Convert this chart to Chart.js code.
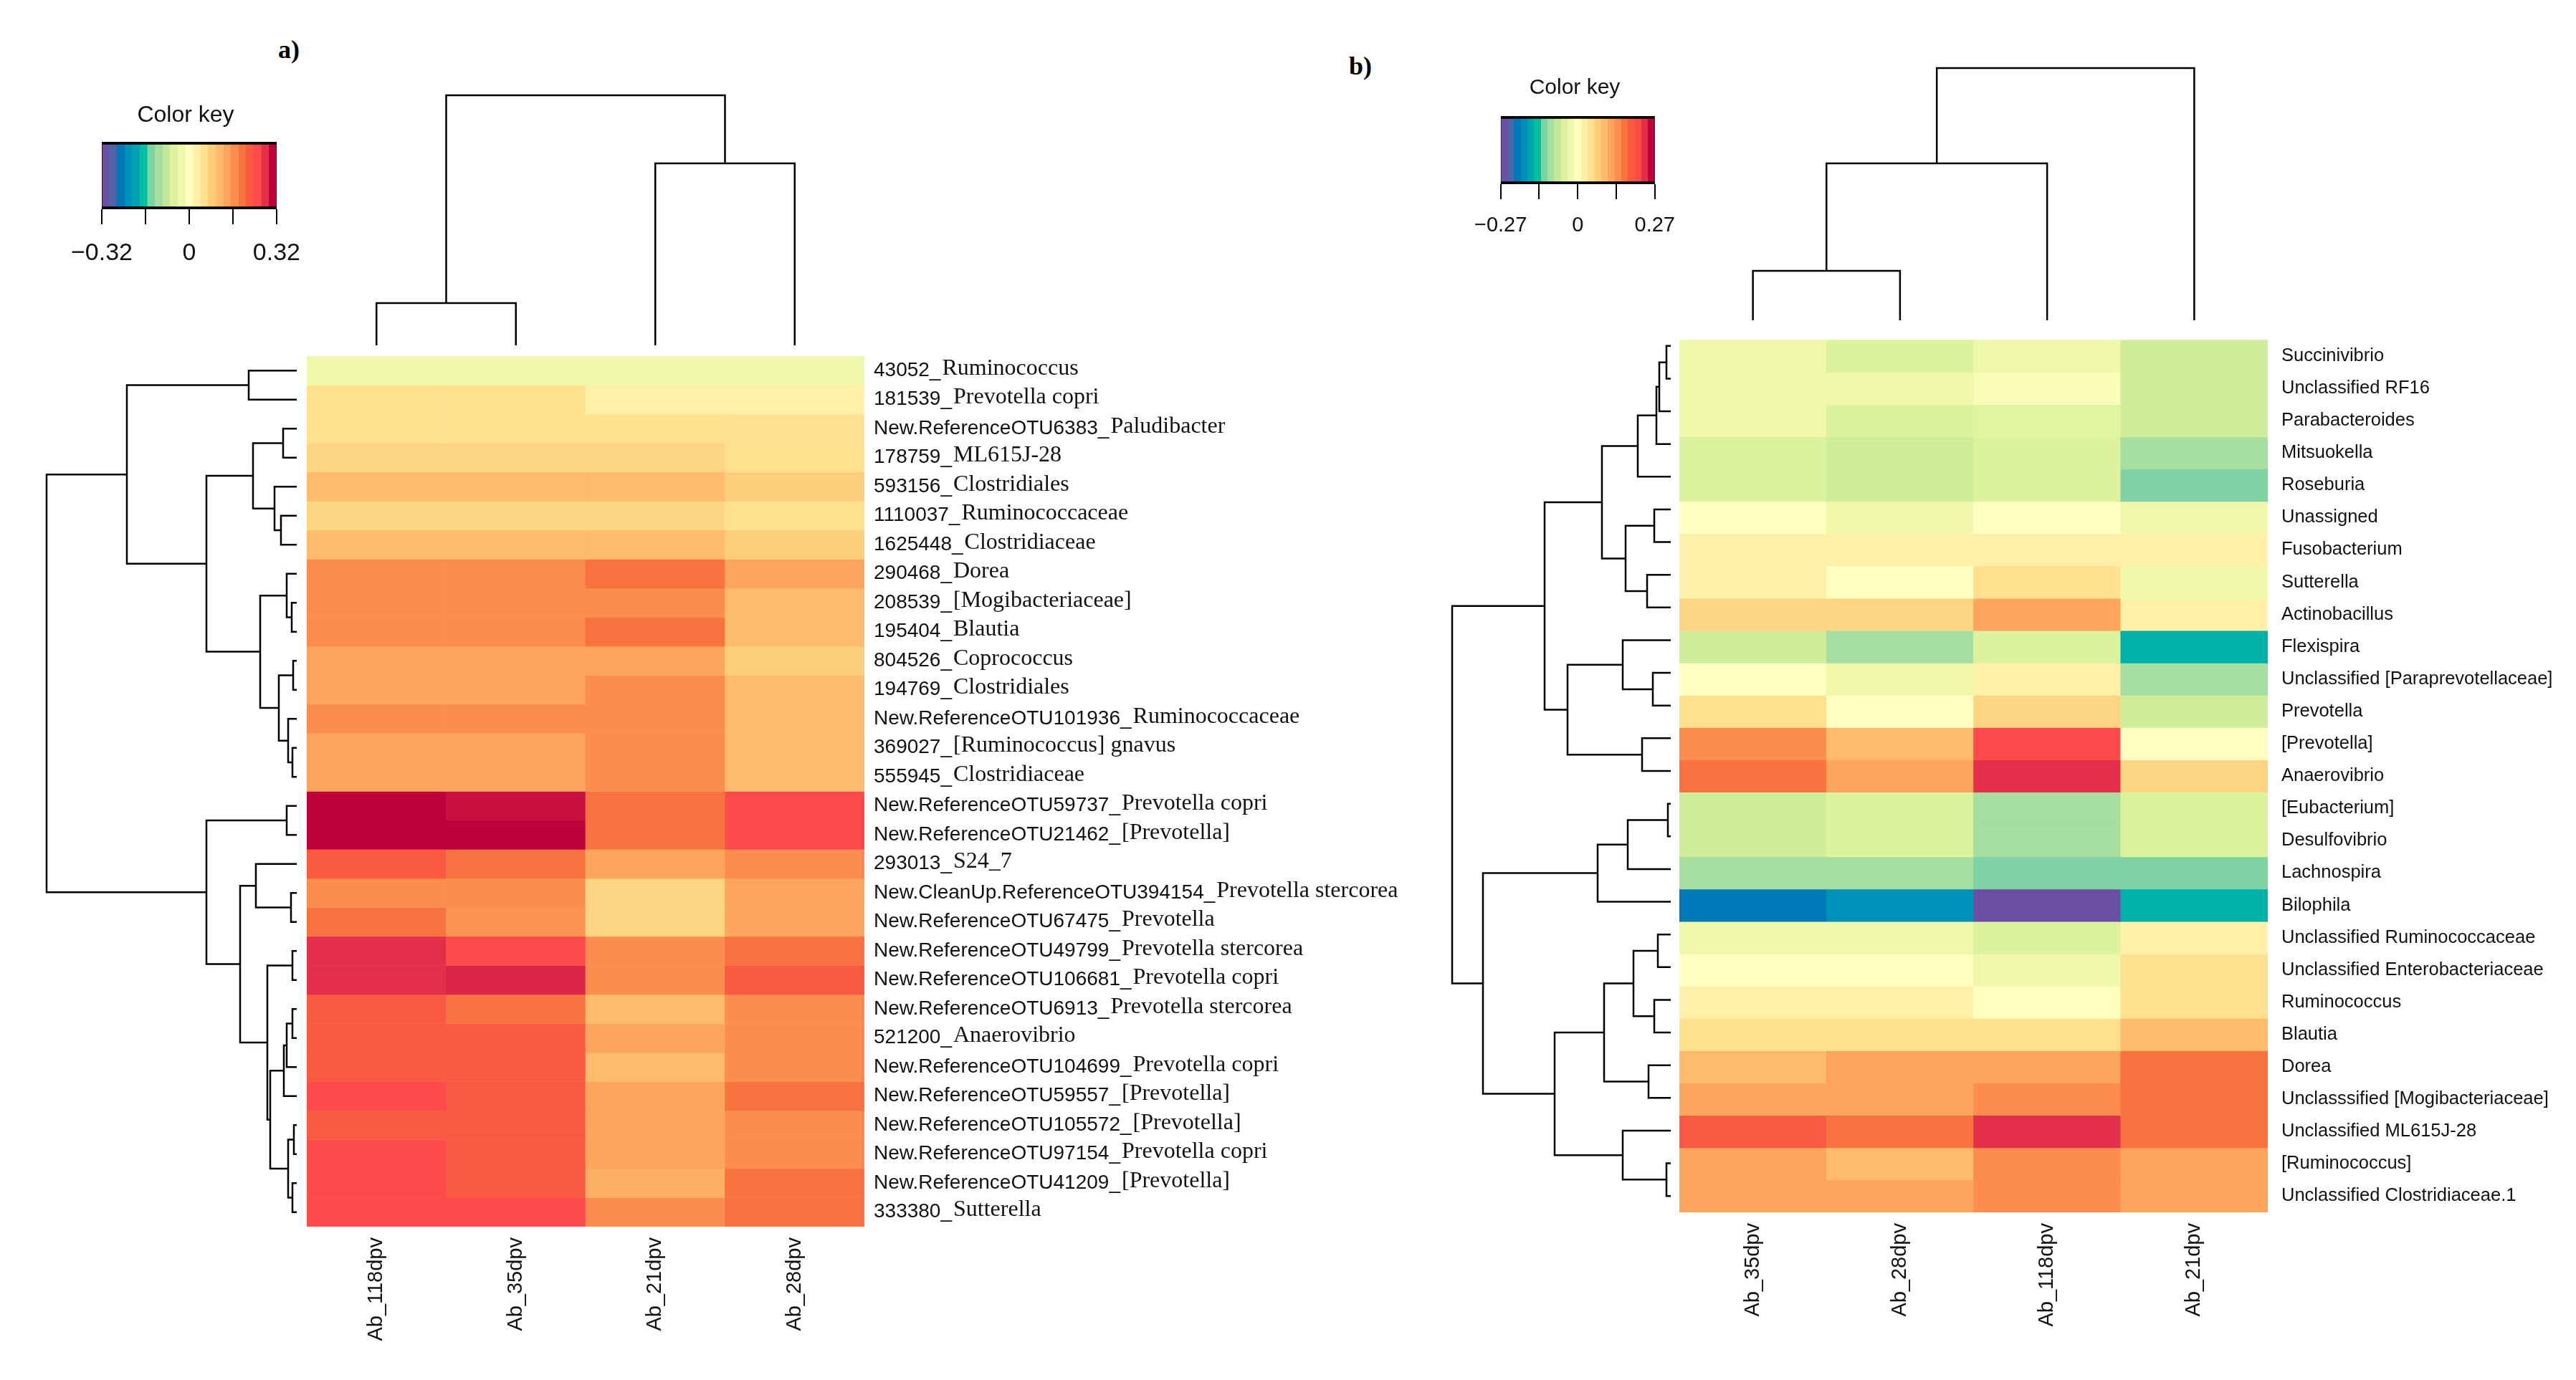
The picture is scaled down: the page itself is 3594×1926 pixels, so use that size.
<!DOCTYPE html>
<html>
<head>
<meta charset="utf-8">
<title>Heatmaps a) and b)</title>
<script src="https://cdn.jsdelivr.net/npm/chart.js@4.4.1/dist/chart.umd.min.js"></script>
<style>
  html, body { margin: 0; padding: 0; background: #fff; }
  #page { position: relative; width: 3594px; height: 1926px; overflow: hidden; background: #fff; }
  #page canvas { position: absolute; }
  .tag { position: absolute; font: bold 36px 'Liberation Serif', serif; color: #000; transform: translate(-50%, -50%); }
</style>
</head>
<body>
<div id="page">
  <div class="tag" style="left:403px; top:69px">a)</div>
  <div class="tag" style="left:1898px; top:92px">b)</div>
</div>
<script>
// ---- panel a data ----
const colsA = ['Ab_118dpv', 'Ab_35dpv', 'Ab_21dpv', 'Ab_28dpv'];
const rowsA = [
  '43052_Ruminococcus', '181539_Prevotella copri', 'New.ReferenceOTU6383_Paludibacter',
  '178759_ML615J-28', '593156_Clostridiales', '1110037_Ruminococcaceae', '1625448_Clostridiaceae',
  '290468_Dorea', '208539_[Mogibacteriaceae]', '195404_Blautia', '804526_Coprococcus',
  '194769_Clostridiales', 'New.ReferenceOTU101936_Ruminococcaceae', '369027_[Ruminococcus] gnavus',
  '555945_Clostridiaceae', 'New.ReferenceOTU59737_Prevotella copri', 'New.ReferenceOTU21462_[Prevotella]',
  '293013_S24_7', 'New.CleanUp.ReferenceOTU394154_Prevotella stercorea', 'New.ReferenceOTU67475_Prevotella',
  'New.ReferenceOTU49799_Prevotella stercorea', 'New.ReferenceOTU106681_Prevotella copri',
  'New.ReferenceOTU6913_Prevotella stercorea', '521200_Anaerovibrio', 'New.ReferenceOTU104699_Prevotella copri',
  'New.ReferenceOTU59557_[Prevotella]', 'New.ReferenceOTU105572_[Prevotella]',
  'New.ReferenceOTU97154_Prevotella copri', 'New.ReferenceOTU41209_[Prevotella]', '333380_Sutterella'
];
const valuesA = [
  [-0.028, -0.028, -0.028, -0.028],
  [0.056, 0.056, 0.028, 0.028],
  [0.056, 0.056, 0.056, 0.052],
  [0.075, 0.075, 0.075, 0.056],
  [0.111, 0.111, 0.111, 0.084],
  [0.072, 0.072, 0.072, 0.056],
  [0.111, 0.111, 0.111, 0.084],
  [0.167, 0.167, 0.195, 0.139],
  [0.167, 0.167, 0.167, 0.111],
  [0.167, 0.167, 0.195, 0.111],
  [0.139, 0.139, 0.139, 0.084],
  [0.139, 0.139, 0.167, 0.111],
  [0.167, 0.167, 0.167, 0.111],
  [0.139, 0.139, 0.167, 0.111],
  [0.139, 0.139, 0.167, 0.111],
  [0.320, 0.298, 0.195, 0.250],
  [0.320, 0.320, 0.195, 0.250],
  [0.223, 0.195, 0.139, 0.167],
  [0.167, 0.167, 0.075, 0.139],
  [0.195, 0.160, 0.075, 0.139],
  [0.278, 0.250, 0.167, 0.195],
  [0.278, 0.285, 0.167, 0.223],
  [0.223, 0.195, 0.111, 0.167],
  [0.223, 0.223, 0.139, 0.167],
  [0.223, 0.223, 0.111, 0.167],
  [0.250, 0.223, 0.139, 0.195],
  [0.223, 0.223, 0.139, 0.167],
  [0.250, 0.223, 0.139, 0.167],
  [0.250, 0.223, 0.125, 0.195],
  [0.250, 0.250, 0.167, 0.195]
];
const limA = 0.32;
const keyTicksA = [-0.32, -0.16, 0, 0.16, 0.32];
const keyLabelsA = ['\u22120.32', '', '0', '', '0.32'];
// hclust style merges: negative = leaf, positive = earlier merge
const colMergeA = [[-1, -2], [-3, -4], [1, 2]];
const colHeightA = [59, 254, 349];
const rowMergeA = [
  [-14, -15], [-11, -12], [-13, 1], [2, 3], [-9, -10], [-8, 5], [6, 4], [-6, -7], [-5, 8], [-3, -4],
  [10, 9], [11, 7], [-1, -2], [13, 12], [-16, -17], [-19, -20], [-18, 16], [-21, -22], [-23, -24], [19, -25],
  [20, -26], [-27, -28], [-29, -30], [22, 23], [21, 24], [18, 25], [17, 26], [15, 27], [14, 28]
];
const rowHeightA = [6, 5, 12, 25, 7, 14, 51, 22, 31, 19, 61, 126, 67, 237, 14, 8, 57, 6, 6, 14,
  18, 4, 6, 12, 37, 41, 79, 126, 349];

// ---- panel b data ----
const colsB = ['Ab_35dpv', 'Ab_28dpv', 'Ab_118dpv', 'Ab_21dpv'];
const rowsB = [
  'Succinivibrio', 'Unclassified RF16', 'Parabacteroides', 'Mitsuokella', 'Roseburia', 'Unassigned',
  'Fusobacterium', 'Sutterella', 'Actinobacillus', 'Flexispira', 'Unclassified [Paraprevotellaceae]',
  'Prevotella', '[Prevotella]', 'Anaerovibrio', '[Eubacterium]', 'Desulfovibrio', 'Lachnospira', 'Bilophila',
  'Unclassified Ruminococcaceae', 'Unclassified Enterobacteriaceae', 'Ruminococcus', 'Blautia', 'Dorea',
  'Unclasssified [Mogibacteriaceae]', 'Unclassified ML615J-28', '[Ruminococcus]', 'Unclassified Clostridiaceae.1'
];
const valuesB = [
  [-0.023, -0.047, -0.023, -0.059],
  [-0.023, -0.023, -0.009, -0.059],
  [-0.023, -0.047, -0.040, -0.059],
  [-0.047, -0.059, -0.047, -0.094],
  [-0.047, -0.059, -0.047, -0.117],
  [0.000, -0.023, 0.000, -0.023],
  [0.023, 0.023, 0.023, 0.023],
  [0.023, 0.000, 0.047, -0.023],
  [0.063, 0.063, 0.117, 0.023],
  [-0.059, -0.094, -0.047, -0.153],
  [0.000, -0.023, 0.023, -0.094],
  [0.047, 0.000, 0.063, -0.059],
  [0.141, 0.094, 0.211, 0.000],
  [0.164, 0.117, 0.235, 0.063],
  [-0.059, -0.047, -0.094, -0.047],
  [-0.059, -0.047, -0.094, -0.047],
  [-0.094, -0.094, -0.117, -0.117],
  [-0.211, -0.188, -0.258, -0.153],
  [-0.023, -0.023, -0.047, 0.023],
  [0.000, 0.000, -0.023, 0.047],
  [0.023, 0.023, 0.000, 0.047],
  [0.047, 0.047, 0.047, 0.094],
  [0.094, 0.117, 0.117, 0.164],
  [0.117, 0.117, 0.141, 0.164],
  [0.188, 0.164, 0.235, 0.164],
  [0.117, 0.094, 0.141, 0.117],
  [0.117, 0.117, 0.141, 0.117]
];
const limB = 0.27;
const keyTicksB = [-0.27, -0.135, 0, 0.135, 0.27];
const keyLabelsB = ['\u22120.27', '', '0', '', '0.27'];
const colMergeB = [[-1, -2], [1, -3], [2, -4]];
const colHeightB = [69, 219, 352];
const rowMergeB = [
  [-1, -2], [1, -3], [2, -4], [3, -5], [-6, -7], [-8, -9], [5, 6], [4, 7], [-11, -12], [-10, 9],
  [-13, -14], [10, 11], [8, 12], [-15, -16], [14, -17], [15, -18], [-19, -20], [-21, -22], [17, 18], [-23, -24],
  [19, 20], [-26, -27], [-25, 22], [21, 23], [16, 24], [13, 25]
];
const rowHeightB = [6, 16, 20, 46, 23, 33, 63, 96, 25, 67, 40, 144, 176, 4, 60, 102, 18, 23, 52, 31,
  93, 6, 67, 162, 262, 305];

// ---- helpers ----
Chart.defaults.font.family = "'Liberation Sans', Arial, sans-serif";
Chart.defaults.color = '#111';

// colour bands of the key, low to high
const bands = ['#6A4FA2', '#4F63AB', '#0079B8', '#0090B8', '#00A4B0', '#00BFA3', '#7ED3A5', '#A5DE9F',
  '#C3E89A', '#DDF29C', '#EFF8AA', '#FFFFC0', '#FEF0A6', '#FEE08F', '#FDCF7C', '#FDBB6B',
  '#FCA55C', '#FC8D4F', '#F8733F', '#FA5A42', '#FD4A4A', '#E32F4A', '#BE003C'];

function hexRgb(h) {
  return [1, 3, 5].map(k => parseInt(h.slice(k, k + 2), 16));
}

function colorFor(v, lim) {
  const n = bands.length;
  let t = (v + lim) / (2 * lim) * n - 0.5;
  t = Math.max(0, Math.min(n - 1, t));
  const i = Math.min(Math.floor(t), n - 2);
  const f = t - i;
  const a = hexRgb(bands[i]), b = hexRgb(bands[i + 1]);
  return 'rgb(' + a.map((x, k) => Math.round(x + (b[k] - x) * f)).join(',') + ')';
}

function keyFill(chart) {
  const area = chart.chartArea;
  if (!area) return '#fff';
  const g = chart.ctx.createLinearGradient(area.left, 0, area.right, 0);
  const n = bands.length;
  bands.forEach((c, k) => {
    g.addColorStop(k / n, c);
    g.addColorStop((k + 1) / n - 0.001, c);
  });
  return g;
}

function makeCanvas(left, top, w, h) {
  const c = document.createElement('canvas');
  c.width = w; c.height = h;
  c.style.left = left + 'px'; c.style.top = top + 'px';
  c.style.width = w + 'px'; c.style.height = h + 'px';
  document.getElementById('page').appendChild(c);
  return c;
}

const quiet = { legend: { display: false }, tooltip: { enabled: false } };

// U-shaped links of a dendrogram, leaf k sits at k - 0.5
function dendroLinks(merges, heights) {
  const pos = [];
  const node = k => k < 0 ? [-k - 0.5, 0] : [pos[k - 1], heights[k - 1]];
  return merges.map((m, i) => {
    const [p1, h1] = node(m[0]);
    const [p2, h2] = node(m[1]);
    pos[i] = (p1 + p2) / 2;
    return [[p1, h1], [p1, heights[i]], [p2, heights[i]], [p2, h2]];
  });
}

function drawDendro(canvas, merges, heights, nLeaves, across, hMax) {
  const links = dendroLinks(merges, heights);
  new Chart(canvas, {
    type: 'scatter',
    data: {
      datasets: links.map(l => ({
        data: l.map(([p, h]) => across ? { x: p, y: h } : { x: h, y: p }),
        showLine: true, borderColor: '#000', borderWidth: 2.5, pointRadius: 0, clip: false
      }))
    },
    options: {
      responsive: false, animation: false, events: [],
      layout: { padding: 0 },
      plugins: quiet,
      scales: across ? {
        x: { type: 'linear', display: false, min: 0, max: nLeaves },
        y: { type: 'linear', display: false, min: 0, max: hMax }
      } : {
        x: { type: 'linear', display: false, min: 0, max: hMax, reverse: true },
        y: { type: 'linear', display: false, min: 0, max: nLeaves, reverse: true }
      }
    }
  });
}

function drawKey(canvas, lim, ticks, labels, fontSize, side, titleSize, titlePad) {
  new Chart(canvas, {
    type: 'bar',
    data: {
      labels: [''],
      datasets: [{
        data: [[-lim, lim]],
        backgroundColor: c => keyFill(c.chart),
        borderColor: '#000',
        borderWidth: { top: 4, bottom: 4, left: 1, right: 1 },
        borderSkipped: false,
        barPercentage: 1, categoryPercentage: 1
      }]
    },
    options: {
      indexAxis: 'y', responsive: false, animation: false, events: [],
      layout: { padding: { left: side, right: side, top: 0, bottom: 0 } },
      plugins: {
        legend: { display: false }, tooltip: { enabled: false },
        title: { display: true, text: 'Color key', color: '#111',
          font: { size: titleSize, weight: 'normal' }, padding: titlePad }
      },
      scales: {
        y: { display: false },
        x: {
          type: 'linear', min: -lim, max: lim,
          grid: { drawOnChartArea: false, drawTicks: true, tickLength: 21, color: '#000', lineWidth: 2 },
          border: { display: false },
          afterBuildTicks: s => { s.ticks = ticks.map(v => ({ value: v })); },
          afterFit: s => { s.height = 80; },
          ticks: { autoSkip: false, maxRotation: 0, padding: 20, color: '#111',
            font: { size: fontSize }, callback: (v, i) => labels[i] }
        }
      }
    }
  });
}

function heatData(cols, rows, values, lim) {
  return {
    labels: cols,
    datasets: rows.map((row, i) => ({
      label: row,
      data: cols.map(() => [i, i + 1]),
      backgroundColor: values[i].map(v => colorFor(v, lim)),
      borderWidth: 0,
      grouped: false,
      barPercentage: 1,
      categoryPercentage: 1
    }))
  };
}

function colAxis(h) {
  return {
    position: 'bottom',
    grid: { display: false, drawTicks: false },
    border: { display: false },
    afterFit: s => { s.height = h; },
    ticks: { autoSkip: false, minRotation: 90, maxRotation: 90, padding: 15, color: '#111', font: { size: 29 } }
  };
}

// panel a row labels: id in sans, taxon in serif
const rowLabelsA = {
  id: 'rowLabelsA',
  afterDraw(chart) {
    const { ctx, chartArea, scales } = chart;
    ctx.save();
    ctx.fillStyle = '#111';
    ctx.textBaseline = 'middle';
    rowsA.forEach((label, i) => {
      const y = scales.y.getPixelForValue(i + 0.5);
      const cut = label.indexOf('_') + 1;
      const id = label.slice(0, cut), name = label.slice(cut);
      let x = chartArea.right + 13;
      ctx.font = "28px 'Liberation Sans'";
      ctx.fillText(id, x, y);
      x += ctx.measureText(id).width + 2;
      ctx.font = "32px 'Liberation Serif'";
      ctx.fillText(name, x, y - 3);
    });
    ctx.restore();
  }
};

// ---- panel a ----
new Chart(makeCanvas(428, 497, 1570, 1429), {
  type: 'bar',
  data: heatData(colsA, rowsA, valuesA, limA),
  options: {
    responsive: false, animation: false, events: [],
    layout: { padding: { top: 0, left: 0, right: 792, bottom: 0 } },
    plugins: quiet,
    scales: {
      x: colAxis(214),
      y: { type: 'linear', display: false, min: 0, max: rowsA.length, reverse: true }
    }
  },
  plugins: [rowLabelsA]
});
drawDendro(makeCanvas(428, 120, 778, 362), colMergeA, colHeightA, colsA.length, true, 362);
drawDendro(makeCanvas(50, 497, 364, 1215), rowMergeA, rowHeightA, rowsA.length, false, 364);
drawKey(makeCanvas(79, 130, 360, 242), limA, keyTicksA, keyLabelsA, 34, 52, 32, { top: 12, bottom: 17.6 });

// ---- panel b ----
new Chart(makeCanvas(2343, 440, 1251, 1486), {
  type: 'bar',
  data: heatData(colsB, rowsB, valuesB, limB),
  options: {
    responsive: false, animation: false, events: [],
    layout: { padding: { top: 20, left: 0, right: 10, bottom: 0 } },
    plugins: quiet,
    scales: {
      x: colAxis(234),
      y: {
        type: 'linear', position: 'right', min: 0, max: rowsB.length, reverse: true,
        grid: { display: false, drawTicks: false },
        border: { display: false },
        afterBuildTicks: s => { s.ticks = rowsB.map((_, i) => ({ value: i + 0.5 })); },
        afterFit: s => { s.width = 420; },
        ticks: { autoSkip: false, padding: 19, crossAlign: 'near', color: '#111',
          font: { size: 25.5 }, callback: (v, i) => rowsB[i] }
      }
    }
  }
});
drawDendro(makeCanvas(2343, 85, 821, 362), colMergeB, colHeightB, colsB.length, true, 362);
drawDendro(makeCanvas(2016, 460, 315, 1232), rowMergeB, rowHeightB, rowsB.length, false, 315);
drawKey(makeCanvas(2037, 93, 320, 244), limB, keyTicksB, keyLabelsB, 29, 48, 30, { top: 12, bottom: 21 });
</script>
</body>
</html>
